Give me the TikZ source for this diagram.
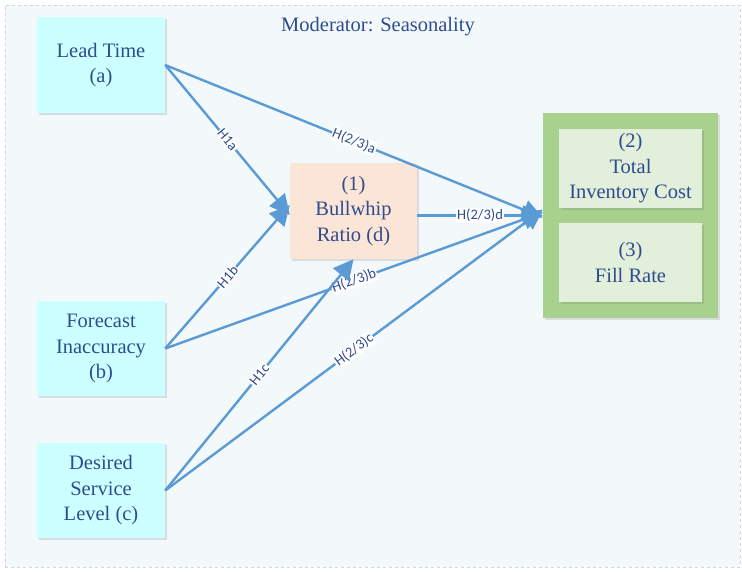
\documentclass[tikz,border=0pt]{standalone}
\usepackage{fontspec}
\setmainfont{Liberation Serif}
\newfontfamily\lblfont{Carlito}
\usetikzlibrary{arrows.meta,shadows}
\definecolor{bgc}{HTML}{F3F8FB}
\definecolor{framec}{HTML}{D0D6DC}
\definecolor{txtc}{HTML}{2F4C8E}
\definecolor{arrc}{HTML}{5B9BD5}
\definecolor{cyanc}{HTML}{CCFFFF}
\definecolor{peachc}{HTML}{FBE5D6}
\definecolor{greenc}{HTML}{A9D18E}
\definecolor{lgreenc}{HTML}{E2EFDA}
\begin{document}
\begin{tikzpicture}[x=1pt,y=-1pt,
  boxfont/.style={font=\fontsize{20.5}{25.5}\selectfont, text=txtc, align=center},
  shad/.style={drop shadow={opacity=0.18, shadow xshift=1.5pt, shadow yshift=-2pt, fill=black!60}},
  inbox/.style={boxfont, fill=cyanc, minimum width=128pt, minimum height=96pt, inner sep=0pt, shad},
  medbox/.style={boxfont, fill=peachc, minimum width=127pt, minimum height=96pt, inner sep=0pt, shad},
  outbox/.style={fill=greenc, minimum width=175pt, minimum height=205pt, inner sep=0pt, shad},
  resbox/.style={boxfont, fill=lgreenc, minimum width=143pt, minimum height=79pt, inner sep=0pt, shad},
  link/.style={draw=arrc, line width=2.4pt, -{Triangle[length=20pt,width=20pt]}},
  hyp/.style={font=\lblfont\fontsize{14.5}{16}\selectfont, text=txtc, fill=white, inner sep=1pt, sloped, pos=0.5}
]
\useasboundingbox (0,0) rectangle (742,571);
\node[draw=framec, dashed, fill=bgc, line width=0.6pt, minimum width=735pt, minimum height=562pt, inner sep=0pt] (frame) at (372.5,286) {};
\node[boxfont, anchor=center] (title) at (378,27) {Moderator: Seasonality};

\node[inbox] (lt) at (101,65) {Lead Time\\(a)};
\node[inbox, minimum height=95pt] (fi) at (101,348.5) {Forecast\\Inaccuracy\\(b)};
\node[inbox, minimum height=95pt] (ds) at (101,490.5) {Desired\\Service\\Level (c)};
\node[medbox] (bw) at (353.5,211) {(1)\\Bullwhip\\Ratio (d)};
\node[outbox] (out) at (630.5,215.5) {};
\node[resbox] (tic) at (630.5,168.5) {(2)\\Total\\Inventory Cost};
\node[resbox] (fr) at (630.5,262.5) {(3)\\Fill Rate};

\coordinate (bwa) at ([yshift=-4pt]bw.west);
\coordinate (bwb) at ([yshift=6pt]bw.west);
\coordinate (oa) at ([yshift=-2pt]out.west);
\coordinate (ob) at ([yshift=3pt]out.west);
\coordinate (oc) at ([yshift=6pt]out.west);

\draw[link] (lt.east) -- node[hyp]{H1a} (bwa);
\draw[link] (lt.east) -- node[hyp]{H(2/3)a} (oa);
\draw[link] (fi.east) -- node[hyp]{H1b} (bwb);
\draw[link] (fi.east) -- node[hyp]{H(2/3)b} (ob);
\draw[link] (ds.east) -- node[hyp]{H1c} (bw.south);
\draw[link] (ds.east) -- node[hyp]{H(2/3)c} (oc);
\draw[link] (bw.east |- out.west) -- node[hyp]{H(2/3)d} (out.west);
\end{tikzpicture}
\end{document}
